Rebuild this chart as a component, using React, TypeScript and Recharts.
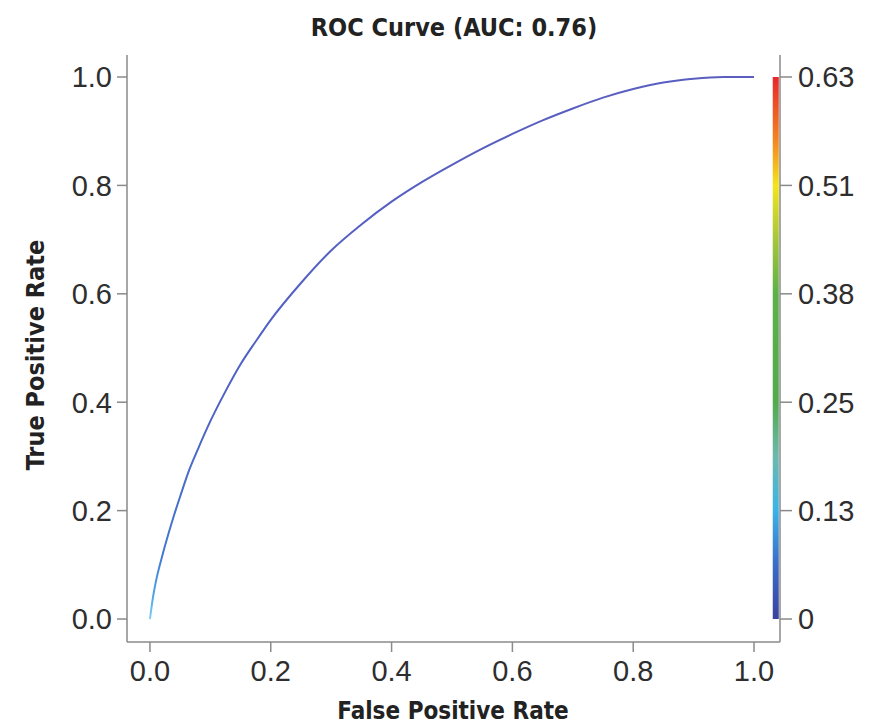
import React from 'react';
import {
  LineChart,
  Line,
  XAxis,
  YAxis,
  ReferenceArea,
} from 'recharts';

// ROC points (false positive rate / true positive rate)
const fpr = [
  0, 0.005, 0.01, 0.02, 0.03, 0.04, 0.05, 0.065, 0.08, 0.1, 0.125, 0.15, 0.175, 0.2,
  0.25, 0.3, 0.35, 0.4, 0.45, 0.5, 0.55, 0.6, 0.65, 0.7, 0.75, 0.8, 0.85, 0.9, 0.95, 1.0,
];
const tpr = [
  0, 0.04, 0.07, 0.115, 0.155, 0.192, 0.226, 0.275, 0.315, 0.365, 0.42, 0.47, 0.512, 0.552,
  0.62, 0.68, 0.728, 0.77, 0.806, 0.838, 0.868, 0.895, 0.92, 0.942, 0.962, 0.978, 0.99,
  0.997, 1.0, 1.0,
];

const xTicks = [0, 0.2, 0.4, 0.6, 0.8, 1.0];
const yTicks = [0, 0.2, 0.4, 0.6, 0.8, 1.0];
// colour bar (threshold) labels, placed at the same heights as the left ticks
const cbarLabels = ['0', '0.13', '0.25', '0.38', '0.51', '0.63'];

const data = fpr.map((x, i) => ({ fpr: x, tpr: tpr[i] }));

const AXIS = '#8a8a8a';
const TICK_FONT = '"Liberation Sans", Arial, sans-serif';
const BOLD_FONT = '"Liberation Sans Narrow", "DejaVu Sans Condensed", "Liberation Sans", sans-serif';
const tickStyle = { fill: '#2e2e2e', fontSize: 29, fontFamily: TICK_FONT };

export default function App() {
  return (
    <div style={{ position: 'absolute', left: 0, top: 0, width: 869, height: 728, background: '#fff' }}>
      <svg width={869} height={728} style={{ position: 'absolute', left: 0, top: 0, pointerEvents: 'none' }}>
        <text x={454} y={36} textAnchor="middle" fontFamily={BOLD_FONT} fontWeight="bold" fontSize={25} fill="#222">
          ROC Curve (AUC: 0.76)
        </text>
        <text x={453} y={719} textAnchor="middle" fontFamily={BOLD_FONT} fontWeight="bold" fontSize={24} fill="#222">
          False Positive Rate
        </text>
        <text
          x={0}
          y={0}
          transform="translate(44,355) rotate(-90)"
          textAnchor="middle"
          fontFamily={BOLD_FONT}
          fontWeight="bold"
          fontSize={25}
          fill="#222"
        >
          True Positive Rate
        </text>
      </svg>
      <LineChart
        width={869}
        height={728}
        data={data}
        margin={{ top: 55, right: 0, bottom: 0, left: 0 }}
        style={{ position: 'absolute', left: 0, top: 0 }}
      >
        <defs>
          <linearGradient id="cbar" x1="0" y1="0" x2="0" y2="1">
            <stop offset="0%" stopColor="#e8262b" />
            <stop offset="12%" stopColor="#f5871f" />
            <stop offset="20%" stopColor="#f3e41d" />
            <stop offset="30%" stopColor="#a6c63a" />
            <stop offset="40%" stopColor="#5cb146" />
            <stop offset="60%" stopColor="#52aa4c" />
            <stop offset="70%" stopColor="#6cb9ad" />
            <stop offset="80%" stopColor="#3ab3e8" />
            <stop offset="90%" stopColor="#3b6cc6" />
            <stop offset="100%" stopColor="#3942a0" />
          </linearGradient>
          <linearGradient id="roc" x1="0" y1="1" x2="0" y2="0">
            <stop offset="0%" stopColor="#7fd3f2" />
            <stop offset="4%" stopColor="#4fa6e6" />
            <stop offset="12%" stopColor="#4277d2" />
            <stop offset="40%" stopColor="#4f62c4" />
            <stop offset="100%" stopColor="#5a5ec0" />
          </linearGradient>
        </defs>
        <XAxis
          xAxisId="top"
          orientation="top"
          dataKey="fpr"
          type="number"
          domain={[-0.038, 1.043]}
          allowDataOverflow
          height={0}
          tick={false}
          tickLine={false}
          axisLine={{ stroke: AXIS, strokeWidth: 1.5 }}
        />
        <XAxis
          dataKey="fpr"
          type="number"
          domain={[-0.038, 1.043]}
          allowDataOverflow
          ticks={xTicks}
          tickFormatter={(v: number) => v.toFixed(1)}
          height={86}
          tickSize={10}
          tickMargin={8}
          interval={0}
          axisLine={{ stroke: AXIS, strokeWidth: 1.5 }}
          tickLine={{ stroke: AXIS, strokeWidth: 1.5 }}
          tick={tickStyle}
        />
        <YAxis
          yAxisId="left"
          type="number"
          domain={[-0.0424, 1.0406]}
          allowDataOverflow
          ticks={yTicks}
          tickFormatter={(v: number) => v.toFixed(1)}
          width={127}
          tickSize={10}
          tickMargin={5}
          interval={0}
          axisLine={{ stroke: AXIS, strokeWidth: 1.5 }}
          tickLine={{ stroke: AXIS, strokeWidth: 1.5 }}
          tick={tickStyle}
        />
        <YAxis
          yAxisId="right"
          orientation="right"
          type="number"
          domain={[-0.0424, 1.0406]}
          allowDataOverflow
          ticks={yTicks}
          tickFormatter={(v: number) => cbarLabels[Math.round(v * 5)]}
          width={89}
          tickSize={12}
          tickMargin={6}
          interval={0}
          axisLine={{ stroke: AXIS, strokeWidth: 1.5 }}
          tickLine={{ stroke: AXIS, strokeWidth: 1.5 }}
          tick={tickStyle}
        />
        <ReferenceArea
          yAxisId="left"
          x1={1.031}
          x2={1.041}
          y1={0}
          y2={1}
          fill="url(#cbar)"
          fillOpacity={1}
          stroke="none"
          ifOverflow="visible"
        />
        <Line
          yAxisId="left"
          dataKey="tpr"
          type="monotone"
          stroke="url(#roc)"
          strokeWidth={2}
          dot={false}
          isAnimationActive={false}
        />
      </LineChart>
    </div>
  );
}
